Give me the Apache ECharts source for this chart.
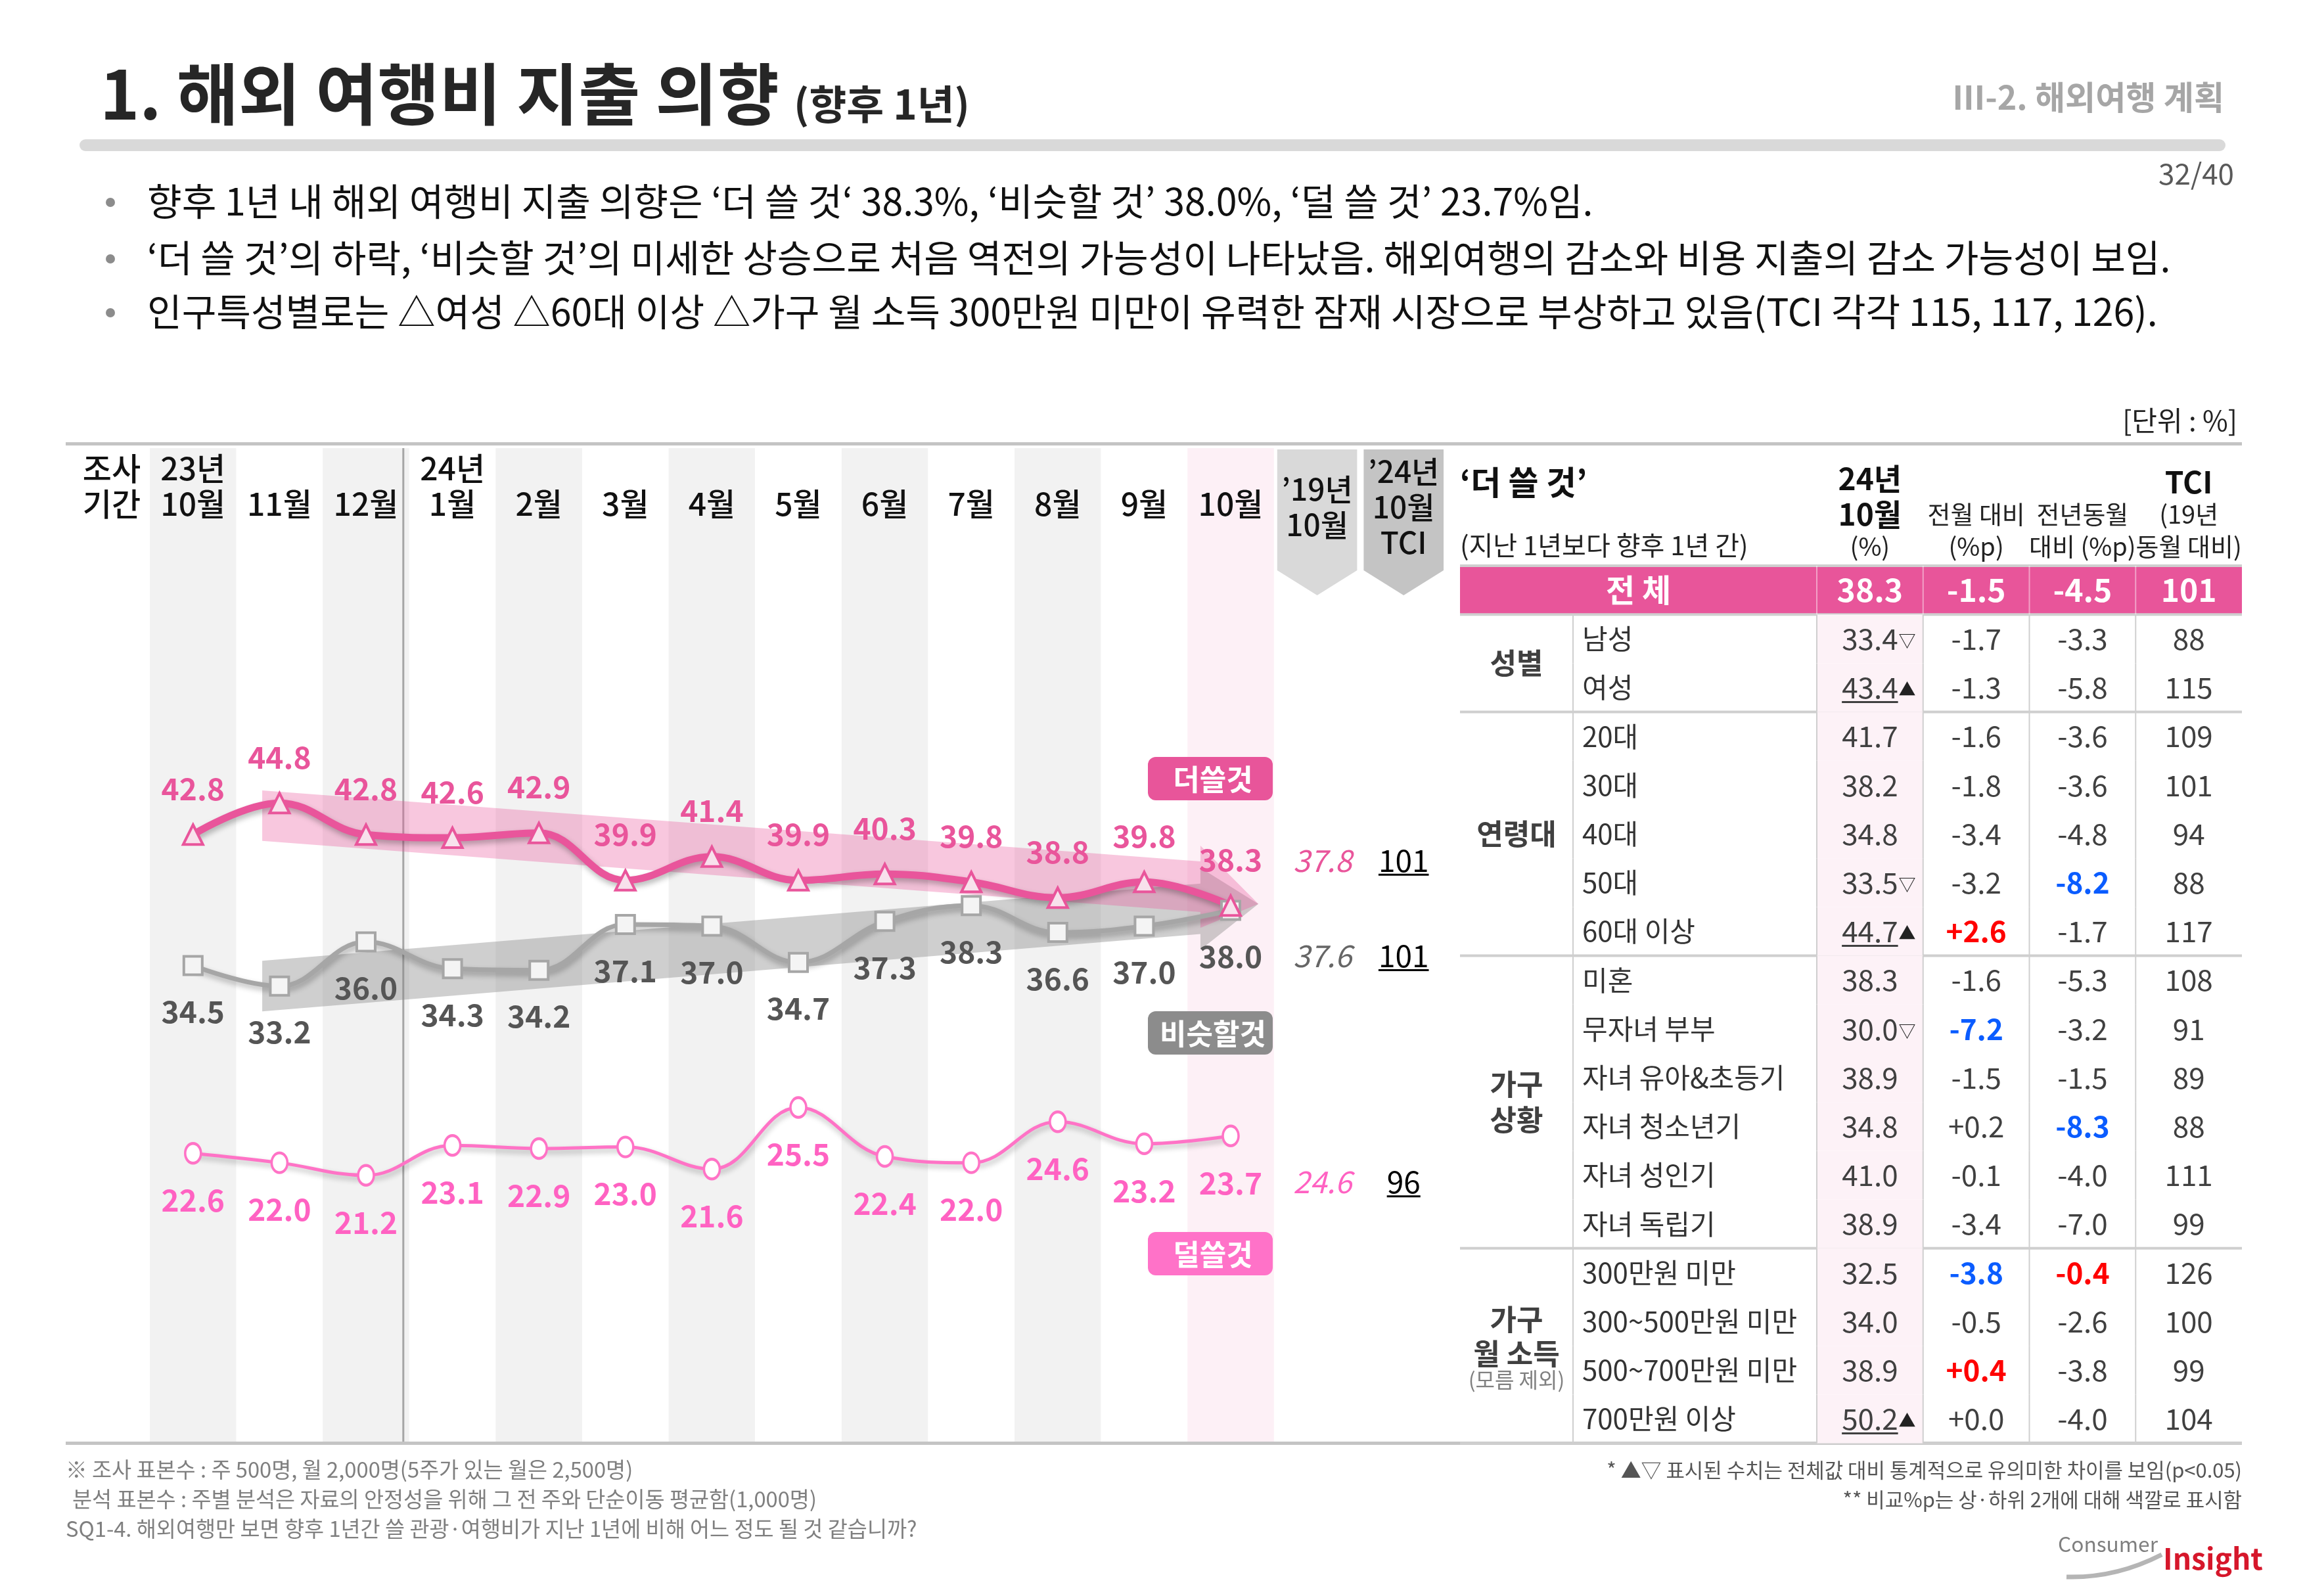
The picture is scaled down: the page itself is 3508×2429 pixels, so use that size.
<!DOCTYPE html>
<html><head><meta charset="utf-8">
<script src="https://cdn.jsdelivr.net/npm/echarts@6/dist/echarts.min.js"></script>
<style>html,body{margin:0;padding:0;background:#fff}#c{width:3508px;height:2429px}</style>
</head><body><div id="c"></div>
<script>
const FONT = '"Noto Sans CJK KR","Noto Sans",sans-serif';

// ---------------- data ----------------
const months = ['23년\n10월','11월','12월','24년\n1월','2월','3월','4월','5월','6월','7월','8월','9월','10월'];
const compareCols = ['’19년\n10월', '’24년\n10월\nTCI'];
const moreSpend    = [42.8,44.8,42.8,42.6,42.9,39.9,41.4,39.9,40.3,39.8,38.8,39.8,38.3];
const similarSpend = [34.5,33.2,36.0,34.3,34.2,37.1,37.0,34.7,37.3,38.3,36.6,37.0,38.0];
const lessSpend    = [22.6,22.0,21.2,23.1,22.9,23.0,21.6,25.5,22.4,22.0,24.6,23.2,23.7];
const oct19  = [37.8, 37.6, 24.6];
const tci24  = [101, 101, 96];
// trend arrows: category position (start, end of body, tip) and values
const trendIdx     = [0.8, 11.65, 12.32];
const trendMore    = [44.0, 39.5, 38.4];
const trendSimilar = [33.2, 38.1, 38.4];

const tableCols = ['24년 10월 (%)','전월 대비 (%p)','전년동월 대비 (%p)','TCI'];
const rowLabels = ['전 체','남성','여성','20대','30대','40대','50대','60대 이상','미혼','무자녀 부부','자녀 유아&초등기','자녀 청소년기','자녀 성인기','자녀 독립기','300만원 미만','300~500만원 미만','500~700만원 미만','700만원 이상'];
const groupNames = ['성별','연령대','가구\n상황','가구\n월 소득'];
const groupSizes = [2,5,6,4];
const rowValue = [38.3,33.4,43.4,41.7,38.2,34.8,33.5,44.7,38.3,30.0,38.9,34.8,41.0,38.9,32.5,34.0,38.9,50.2];
const rowSig   = ['','▽','▲','','','','▽','▲','','▽','','','','','','','','▲'];
const momDiff  = [-1.5,-1.7,-1.3,-1.6,-1.8,-3.4,-3.2,2.6,-1.6,-7.2,-1.5,0.2,-0.1,-3.4,-3.8,-0.5,0.4,0.0];
const yoyDiff  = [-4.5,-3.3,-5.8,-3.6,-3.6,-4.8,-8.2,-1.7,-5.3,-3.2,-1.5,-8.3,-4.0,-7.0,-0.4,-2.6,-3.8,-4.0];
const tciRow   = [101,88,115,109,101,94,88,117,108,91,89,88,111,99,126,100,99,104];
const momHi    = ['','','','','','','','r','','b','','','','','b','','r',''];
const yoyHi    = ['','','','','','','b','','','','','b','','','r','','',''];

// ---------------- helpers ----------------
const mctx = document.createElement('canvas').getContext('2d');
function textW(t, size, weight, style){ mctx.font = (style||'normal')+' '+(weight||'normal')+' '+size+'px '+FONT; return mctx.measureText(t).width; }
function fit(t, weight, target){ return 100*target/textW(t,100,weight); }
function sty(o){
  const s = {text:o.text, fontSize:o.size, fontFamily:FONT, fontWeight:o.weight||'normal', fontStyle:o.fstyle||'normal',
    fill:o.color||'#222', align:o.align||'left', verticalAlign:o.valign||'middle', textAlign:o.align||'left', textVerticalAlign:o.valign||'middle'};
  if (o.lh) s.lineHeight = o.lh;
  if (o.x!=null){ s.x=o.x; s.y=o.y; }
  return s;
}
function GT(text, x, y, size, o){ o=o||{}; return {type:'text', x:x, y:y, silent:true, z:20, style:sty(Object.assign({text:text,size:size},o))}; }
function GR(x,y,w,h,fill,r){ return {type:'rect', silent:true, z:5, shape:{x:x,y:y,width:w,height:h,r:r||0}, style:{fill:fill}}; }
const fmtSign = v => (v>=0?'+':'') + v.toFixed(1);
const hiColor = h => h==='r' ? '#ff0000' : (h==='b' ? '#0a5cff' : null);

// ---------------- layout ----------------
const G0 = {left:228, top:682, width:131.6*15, height:1515};
const TB = {left:2222, sub:2394, valLeft:2765, colW:161.75, top:861, rowH:74.2, right:3412};

// ---------------- series ----------------
const stripes = {
  type:'bar', xAxisIndex:0, yAxisIndex:1, barWidth:'100%', silent:true, z:0,
  data: months.map((m,i)=>({value:1, itemStyle:{color: i===months.length-1 ? '#fdf0f6' : (i%2===0 ? '#f2f2f2' : '#ffffff')}}))
};

const decor = {
  type:'custom', xAxisIndex:0, yAxisIndex:0, silent:true, z:1, clip:false,
  data:[[0, 40]],
  renderItem(params, api){
    const x0 = api.coord([0, 40])[0];
    const bw = api.size([1, 0])[0];
    const X = i => x0 + i*bw;
    const Y = v => api.coord([0, v])[1];
    const top = params.coordSys.y, bottom = params.coordSys.y + params.coordSys.height;
    const ch = [];
    ch.push({type:'line', shape:{x1:X(2.5)-9, y1:top, x2:X(2.5)-9, y2:bottom}, style:{stroke:'#a6a6a6', lineWidth:3}});
    function arrow(vals, fill){
      const h=1.6, H=2.6, a=trendIdx[0], b=trendIdx[1], t=trendIdx[2];
      return {type:'polygon', shape:{points:[[X(a),Y(vals[0]+h)],[X(b),Y(vals[1]+h)],[X(b),Y(vals[1]+H)],[X(t),Y(vals[2])],[X(b),Y(vals[1]-H)],[X(b),Y(vals[1]-h)],[X(a),Y(vals[0]-h)]]}, style:{fill:fill}};
    }
    ch.push(arrow(trendSimilar, 'rgba(130,130,130,0.38)'));
    ch.push(arrow(trendMore, 'rgba(233,85,155,0.33)'));
    const boxCols = ['#d9d9d9', '#c4c4c4'];
    compareCols.forEach((lab, j) => {
      const cx = X(months.length + j), w = bw - 10;
      ch.push({type:'polygon', shape:{points:[[cx-w/2, top+2],[cx+w/2, top+2],[cx+w/2, top+186],[cx, top+224],[cx-w/2, top+186]]}, style:{fill:boxCols[j]}});
      ch.push({type:'text', style:sty({text:lab, x:cx, y:top+90, size:46, weight:500, color:'#111', align:'center', lh:54})});
    });
    return {type:'group', children:ch};
  }
};

function lineSeries(name, data, color, width, symbol, size, fill, labelColor, pos, dist, weight){
  return {
    name:name, type:'line', xAxisIndex:0, yAxisIndex:0, data:data, z:3,
    smooth:0.4, symbol:symbol, symbolSize:size, showAllSymbol:true,
    lineStyle:{color:color, width:width, shadowColor:'rgba(0,0,0,0.28)', shadowBlur:8, shadowOffsetY:5, shadowOffsetX:2},
    itemStyle:{color:fill, borderColor:color, borderWidth:4},
    label:{show:true, position:pos, distance:dist, color:labelColor, fontSize:46, fontFamily:FONT, fontWeight:weight, formatter:p=>p.value.toFixed(1)}
  };
}
const lineMore    = lineSeries('더쓸것', moreSpend, '#e9559b', 11, 'triangle', 30, '#f8e1ec', '#e9559b', 'top', 30, 'bold');
const lineSimilar = lineSeries('비슷할것', similarSpend, '#a6a6a6', 7, 'rect', 28, '#f4f4f4', '#555555', 'bottom', 31, 'bold');
const lineLess    = lineSeries('덜쓸것', lessSpend, '#ff73c6', 5, 'circle', [24,30], '#ffffff', '#ff62c2', 'bottom', 31, 'bold');

const lastVals = [moreSpend[moreSpend.length-1], similarSpend[similarSpend.length-1], lessSpend[lessSpend.length-1]];
const sideDy = [-69, 69, 70];
const sideColors = ['#e9559b', '#666666', '#ff62c2'];
const sideData = [];
lastVals.forEach((v,k)=>{ sideData.push([months.length, v, k]); sideData.push([months.length+1, v, k]); });
const sideVals = {
  type:'custom', xAxisIndex:0, yAxisIndex:0, z:4, silent:true, clip:false, data:sideData,
  renderItem(params, api){
    const idx = api.value(0), k = api.value(2);
    const p = api.coord([idx, api.value(1)]);
    const y = p[1] + sideDy[k];
    if (idx === months.length){
      return {type:'text', style:sty({text:oct19[k].toFixed(1), x:p[0]+8, y:y, size:46, fstyle:'italic', color:sideColors[k], align:'center'})};
    }
    const t = String(tci24[k]); const w = textW(t, 46, 'normal');
    return {type:'group', children:[
      {type:'text', style:sty({text:t, x:p[0], y:y, size:46, color:'#000', align:'center'})},
      {type:'line', shape:{x1:p[0]-w/2, y1:y+22, x2:p[0]+w/2, y2:y+22}, style:{stroke:'#000', lineWidth:3}}
    ]};
  }
};

// table
const groupStart = []; { let s=1; groupSizes.forEach(n=>{ groupStart.push(s); s+=n; }); }
const table = {
  type:'custom', xAxisIndex:1, yAxisIndex:2, z:5, silent:true, clip:false,
  data: rowLabels.map((l, r) => [0, r]),
  renderItem(params, api){
    const r = api.value(1);
    const p0 = api.coord([0, r]);
    const sz = api.size([1, 1]);
    const cw = sz[0], rh = sz[1];
    const yc = p0[1], yT = yc - rh/2, yB = yc + rh/2;
    const valL = p0[0] - cw/2, right = valL + 4*cw;
    const left = TB.left, subL = TB.sub;
    const ch = [];
    const L = (x1,y1,x2,y2,c,w)=>({type:'line', shape:{x1,y1,x2,y2}, style:{stroke:c, lineWidth:w}});
    if (r === 0){
      ch.push({type:'rect', shape:{x:left, y:yT, width:right-left, height:rh}, style:{fill:'#e8559a'}});
      ch.push(L(left, yT, right, yT, '#cfcfcf', 4));
      ch.push(L(left, yB, right, yB, '#cfcfcf', 4));
      for (let c=0;c<4;c++) ch.push(L(valL+c*cw, yT, valL+c*cw, yB, 'rgba(255,255,255,0.45)', 2));
      ch.push({type:'text', style:sty({text:rowLabels[r], x:(left+valL)/2, y:yc, size:48, weight:'bold', color:'#fff', align:'center'})});
    } else {
      ch.push({type:'rect', shape:{x:valL, y:yT, width:cw, height:rh}, style:{fill:'#fdf2f7'}});
      for (let c=0;c<4;c++) ch.push(L(valL+c*cw, yT, valL+c*cw, yB, '#cfcfcf', 2));
      ch.push(L(subL, yT, subL, yB, '#cfcfcf', 2));
      ch.push({type:'text', style:sty({text:rowLabels[r], x:subL+14, y:yc, size:42, color:'#333'})});
    }
    const head = r === 0;
    const baseColor = head ? '#ffffff' : '#404040';
    const fs = head ? 48 : 44, fw = head ? 'bold' : 'normal';
    const cx0 = valL + cw/2;
    const vt = rowValue[r].toFixed(1);
    const vw = textW(vt, fs, fw);
    ch.push({type:'text', style:sty({text:vt, x:cx0, y:yc, size:fs, weight:fw, color:baseColor, align:'center'})});
    if (rowSig[r]){
      ch.push({type:'text', style:sty({text:rowSig[r], x:cx0+vw/2+1, y:yc+3, size:26, color:'#222'})});
      if (rowSig[r]==='▲') ch.push(L(cx0-vw/2, yc+22, cx0+vw/2, yc+22, '#404040', 3));
    }
    const cells = [fmtSign(momDiff[r]), fmtSign(yoyDiff[r]), String(tciRow[r])];
    const his = [momHi[r], yoyHi[r], ''];
    cells.forEach((t, j) => {
      const col = hiColor(his[j]);
      ch.push({type:'text', style:sty({text:t, x:valL+(j+1.5)*cw, y:yc, size:fs, weight: col ? 'bold' : fw, color: col || baseColor, align:'center'})});
    });
    const gi = groupStart.indexOf(r);
    if (gi >= 0){
      const n = groupSizes[gi];
      const gy = yT + n*rh/2;
      const gx = (left + subL)/2;
      if (gi === groupNames.length-1){
        ch.push({type:'text', style:sty({text:groupNames[gi], x:gx, y:gy-14, size:44, weight:'bold', color:'#404040', align:'center', lh:52})});
        ch.push({type:'text', style:sty({text:'(모름 제외)', x:gx, y:gy+52, size:32, color:'#808080', align:'center'})});
      } else {
        ch.push({type:'text', style:sty({text:groupNames[gi], x:gx, y:gy, size:44, weight:'bold', color:'#404040', align:'center', lh:54})});
      }
      const yEnd = yT + n*rh;
      ch.push(L(left, yEnd, right, yEnd, '#cfcfcf', 4));
    }
    return {type:'group', children:ch};
  }
};

// ---------------- graphics ----------------
const g = [];
g.push(GR(121, 212, 3266, 18, '#d9d9d9', 9));
const titleMain = '1. 해외 여행비 지출 의향';
g.push(GT(titleMain, 152, 143, fit(titleMain,'bold',1034), {weight:'bold', color:'#262626'}));
const titleSub = '(향후 1년)';
g.push(GT(titleSub, 1208, 158, fit(titleSub,'bold',268), {weight:'bold', color:'#262626'}));
const sect = 'Ⅲ-2. 해외여행 계획';
g.push(GT(sect, 3385, 148, fit(sect,'bold',414), {weight:'bold', color:'#a6a6a6', align:'right'}));
g.push(GT('32/40', 3400, 264, 44, {color:'#595959', align:'right'}));

const bullets = [
  ['향후 1년 내 해외 여행비 지출 의향은 ‘더 쓸 것‘ 38.3%, ‘비슷할 것’ 38.0%, ‘덜 쓸 것’ 23.7%임.', 306, 2214],
  ['‘더 쓸 것’의 하락, ‘비슷할 것’의 미세한 상승으로 처음 역전의 가능성이 나타났음. 해외여행의 감소와 비용 지출의 감소 가능성이 보임.', 392, 3080],
  ['인구특성별로는 △여성 △60대 이상 △가구 월 소득 300만원 미만이 유력한 잠재 시장으로 부상하고 있음(TCI 각각 115, 117, 126).', 474, 3080]
];
const bSize = Math.min.apply(null, bullets.map(b => fit(b[0], 'normal', b[2])));
bullets.forEach(b => {
  g.push({type:'circle', silent:true, z:20, shape:{cx:168, cy:b[1]+2, r:7}, style:{fill:'#8c8c8c'}});
  g.push(GT(b[0], 224, b[1], bSize, {color:'#111'}));
});
g.push(GT('[단위 : %]', 3405, 640, 42, {color:'#222', align:'right'}));
g.push(GR(100, 673, 3312, 5, '#c4c4c4'));
g.push(GR(100, 2194, 3312, 5, '#c4c4c4'));
g.push(GT('조사\n기간', 170, 740, 48, {weight:500, color:'#111', align:'center', lh:54}));

const colC = c => TB.valLeft + (c+0.5)*TB.colW;
g.push(GT('‘더 쓸 것’', TB.left, 734, 50, {weight:'bold', color:'#111'}));
g.push(GT('(지난 1년보다 향후 1년 간)', TB.left, 830, 40, {color:'#222'}));
g.push(GT('24년', colC(0), 729, 46, {weight:'bold', color:'#111', align:'center'}));
g.push(GT('10월', colC(0), 783, 46, {weight:'bold', color:'#111', align:'center'}));
g.push(GT('(%)', colC(0), 832, 38, {color:'#222', align:'center'}));
g.push(GT('전월 대비', colC(1), 783, 38, {color:'#222', align:'center'}));
g.push(GT('(%p)', colC(1), 832, 38, {color:'#222', align:'center'}));
g.push(GT('전년동월', colC(2), 783, 38, {color:'#222', align:'center'}));
g.push(GT('대비 (%p)', colC(2), 832, 38, {color:'#222', align:'center'}));
g.push(GT('TCI', colC(3), 734, 46, {weight:'bold', color:'#111', align:'center'}));
g.push(GT('(19년', colC(3), 783, 38, {color:'#222', align:'center'}));
g.push(GT('동월 대비)', colC(3), 832, 38, {color:'#222', align:'center'}));

[['더쓸것', 1152, '#e8559a'], ['비슷할것', 1539, '#8c8c8c'], ['덜쓸것', 1875, '#ff72c8']].forEach(t => {
  g.push(Object.assign(GR(1747, t[1], 190, 66, t[2], 12), {z:15}));
  g.push(GT(t[0], 1846, t[1]+34, 44, {weight:'bold', color:'#fff', align:'center'}));
});

const fnL = [
  ['※ 조사 표본수 : 주 500명, 월 2,000명(5주가 있는 월은 2,500명)', 100, 2237, 866],
  ['분석 표본수 : 주별 분석은 자료의 안정성을 위해 그 전 주와 단순이동 평균함(1,000명)', 110, 2282, 1136],
  ['SQ1-4. 해외여행만 보면 향후 1년간 쓸 관광·여행비가 지난 1년에 비해 어느 정도 될 것 같습니까?', 100, 2327, 1296]
];
const fnSize = Math.min.apply(null, fnL.map(f => fit(f[0], 'normal', f[3])));
fnL.forEach(f => g.push(GT(f[0], f[1], f[2], fnSize, {color:'#7f7f7f'})));
const fnR = [
  ['* ▲▽ 표시된 수치는 전체값 대비 통계적으로 유의미한 차이를 보임(p<0.05)', 2237, 967],
  ['** 비교%p는 상·하위 2개에 대해 색깔로 표시함', 2282, 922]
];
const fnRSize = Math.min.apply(null, fnR.map(f => fit(f[0], 'normal', f[2])));
fnR.forEach(f => g.push(GT(f[0], 3412, f[1], fnRSize, {color:'#555555', align:'right'})));

// logo
g.push({type:'bezierCurve', silent:true, z:20, shape:{x1:3145, y1:2400, cpx1:3220, cpy1:2402, x2:3290, y2:2366}, style:{stroke:'#b5b5b5', lineWidth:7, fill:null}});
g.push(GT('Consumer', 3132, 2350, fit('Consumer','normal',152), {color:'#7f7f7f'}));
g.push(GT('Insight', 3292, 2372, fit('Insight','bold',152), {weight:'bold', color:'#d6172b'}));

// ---------------- option ----------------
const chart = echarts.init(document.getElementById('c'), null, {renderer:'canvas', width:3508, height:2429});
chart.setOption({
  animation:false,
  backgroundColor:'#ffffff',
  textStyle:{fontFamily:FONT},
  grid:[
    Object.assign({containLabel:false, outerBoundsMode:'none'}, G0),
    {left:TB.valLeft, top:TB.top, width:TB.colW*4, height:TB.rowH*18, containLabel:false, outerBoundsMode:'none'}
  ],
  xAxis:[
    {type:'category', gridIndex:0, data:months.concat(compareCols), position:'top', offset:-114,
     axisLine:{show:false}, axisTick:{show:false}, splitLine:{show:false}, splitArea:{show:false},
     axisLabel:{interval:0, margin:2, fontSize:48, lineHeight:54, color:'#111', fontWeight:500, fontFamily:FONT,
       formatter:(v, i) => i < months.length ? v : ''}},
    {type:'category', gridIndex:1, data:tableCols, show:false}
  ],
  yAxis:[
    {type:'value', gridIndex:0, min:4.2, max:67.3, show:false, splitLine:{show:false}},
    {type:'value', gridIndex:0, min:0, max:1, show:false, splitLine:{show:false}},
    {type:'category', gridIndex:1, data:rowLabels, inverse:true, show:false}
  ],
  series:[stripes, decor, lineSimilar, lineLess, lineMore, sideVals, table],
  graphic:{elements:g}
});
</script></body></html>
